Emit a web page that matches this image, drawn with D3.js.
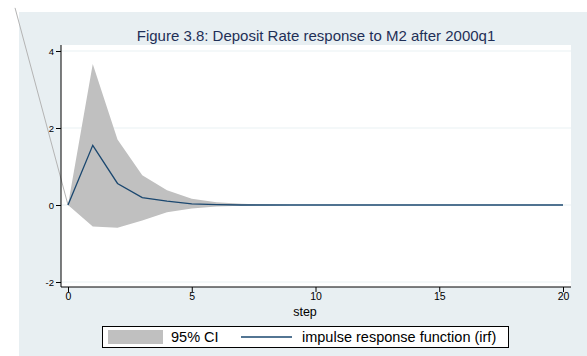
<!DOCTYPE html>
<html>
<head>
<meta charset="utf-8">
<script src="https://cdn.jsdelivr.net/npm/d3@7"></script>
<style>
  body { margin: 0; background: #fff; }
  svg { display: block; font-family: "Liberation Sans", Arial, sans-serif; }
</style>
</head>
<body>
<svg width="587" height="356"></svg>
<script>
// Data
const steps = d3.range(0, 21);
const irf      = [0, 1.55, 0.56, 0.19, 0.10, 0.03, 0.01, 0, 0, 0, 0, 0, 0, 0, 0, 0, 0, 0, 0, 0, 0];
const ciUpper  = [0, 3.66, 1.70, 0.77, 0.38, 0.16, 0.07, 0.03, 0.01, 0, 0, 0, 0, 0, 0, 0, 0, 0, 0, 0, 0];
const ciLower  = [0, -0.56, -0.59, -0.40, -0.19, -0.09, -0.04, -0.02, -0.01, 0, 0, 0, 0, 0, 0, 0, 0, 0, 0, 0, 0];
const yTicks = [-2, 0, 2, 4];
const xTicks = [0, 5, 10, 15, 20];
// stray grey line that runs off the plot to the upper left
const strayLine = [{ step: -2.14, value: 5.12 }, { step: 0, value: 0 }];

const TITLE = "Figure 3.8: Deposit Rate response to M2 after 2000q1";

// Chart constants
const svg = d3.select("svg");
const plot = { left: 61, right: 571, top: 45, bottom: 287 };

const x = d3.scaleLinear().domain([0, 20]).range([68, 563]);
const y = d3.scaleLinear().domain([-2, 4]).range([282, 51]);

// Panel background
svg.append("rect")
    .attr("x", 19).attr("y", 12)
    .attr("width", 587 - 19).attr("height", 356 - 12)
    .attr("fill", "#e8eff2");

// Plot region
svg.append("rect")
    .attr("x", plot.left).attr("y", plot.top)
    .attr("width", plot.right - plot.left).attr("height", plot.bottom - plot.top)
    .attr("fill", "#ffffff");

// Grid lines
svg.append("g")
    .selectAll("line")
    .data(yTicks)
    .enter()
    .append("line")
    .attr("x1", plot.left).attr("x2", plot.right)
    .attr("y1", (d) => y(d)).attr("y2", (d) => y(d))
    .attr("stroke", "#eaf2f3")
    .attr("stroke-width", 1.2);

// Title
svg.append("text")
    .attr("x", 316).attr("y", 41)
    .attr("text-anchor", "middle")
    .attr("font-size", "15px")
    .attr("fill", "#1f2f57")
    .text(TITLE);

// Stray line
svg.append("path")
    .datum(strayLine)
    .attr("fill", "none")
    .attr("stroke", "#b4b4b4")
    .attr("stroke-width", 1)
    .attr("d", d3.line().x((d) => x(d.step)).y((d) => y(d.value)));

// Confidence band
svg.append("path")
    .datum(steps)
    .attr("fill", "#c0c0c0")
    .attr("d", d3.area()
        .x((d) => x(d))
        .y0((d) => y(ciLower[d]))
        .y1((d) => y(ciUpper[d])));

// IRF line
svg.append("path")
    .datum(steps)
    .attr("fill", "none")
    .attr("stroke", "#1a476f")
    .attr("stroke-width", 1.3)
    .attr("d", d3.line().x((d) => x(d)).y((d) => y(irf[d])));

// Axes
const yAxis = svg.append("g")
    .attr("transform", `translate(${plot.left},0)`)
    .call(d3.axisLeft(y).tickValues(yTicks).tickSize(5).tickPadding(2).tickFormat((d) => String(d)));
yAxis.select(".domain").attr("d", `M0,${plot.top}V${plot.bottom}`).attr("stroke", "#000");
yAxis.selectAll(".tick text").attr("font-size", "9.5px");

const xAxis = svg.append("g")
    .attr("transform", `translate(0,${plot.bottom})`)
    .call(d3.axisBottom(x).tickValues(xTicks).tickSize(5).tickPadding(1).tickFormat((d) => String(d)));
xAxis.select(".domain").attr("d", `M${plot.left},0H${plot.right}`).attr("stroke", "#000");
xAxis.selectAll(".tick text").attr("font-size", "10.5px");

svg.selectAll(".tick text")
    .attr("font-family", "Liberation Sans, Arial, sans-serif")
    .attr("fill", "#000");

// X axis title
svg.append("text")
    .attr("x", 305).attr("y", 316)
    .attr("text-anchor", "middle")
    .attr("font-size", "12.5px")
    .attr("fill", "#000")
    .text("step");

// Legend
const legend = svg.append("g");
legend.append("rect")
    .attr("x", 102.5).attr("y", 326.5)
    .attr("width", 406).attr("height", 21)
    .attr("fill", "#fff")
    .attr("stroke", "#000")
    .attr("stroke-width", 1);
legend.append("rect")
    .attr("x", 108).attr("y", 330)
    .attr("width", 55).attr("height", 14)
    .attr("fill", "#c0c0c0");
legend.append("text")
    .attr("x", 171).attr("y", 342)
    .attr("font-size", "14.5px")
    .text("95% CI");
legend.append("line")
    .attr("x1", 241).attr("x2", 292)
    .attr("y1", 337).attr("y2", 337)
    .attr("stroke", "#1a476f")
    .attr("stroke-width", 1.3);
legend.append("text")
    .attr("x", 302).attr("y", 342)
    .attr("font-size", "14.5px")
    .text("impulse response function (irf)");
</script>
</body>
</html>
